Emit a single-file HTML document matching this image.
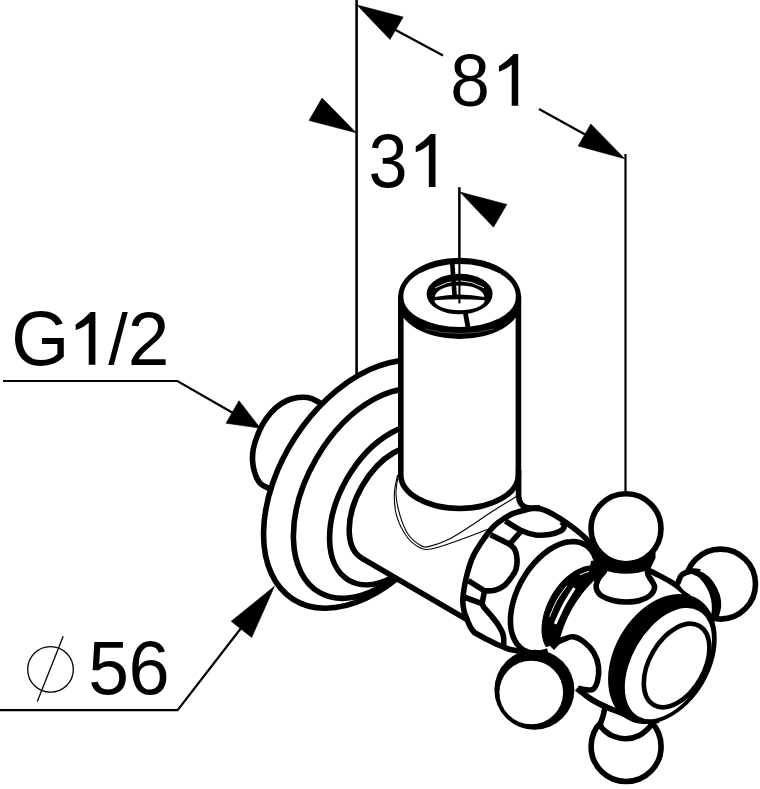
<!DOCTYPE html>
<html><head><meta charset="utf-8"><style>
html,body{margin:0;padding:0;background:#fff;width:760px;height:789px;overflow:hidden}
svg{display:block}
.t{font-family:'Liberation Sans',sans-serif}
</style></head><body>
<svg width="760" height="789" viewBox="0 0 760 789"><line x1="356.6" y1="0" x2="356.6" y2="377" stroke="#000" stroke-width="2.6"/>
<line x1="625.5" y1="154" x2="625.5" y2="492" stroke="#000" stroke-width="2.2"/>
<line x1="459.3" y1="187.4" x2="459.3" y2="303.4" stroke="#000" stroke-width="2"/>
<path d="M390,27 L443,55.5 M539,109 L595,140" fill="none" stroke="#000" stroke-width="2.2" />
<path d="M357.0,5.0 L403.2,17.1 L390.0,39.5Z" fill="#000" stroke="#000" stroke-width="0.6" />
<path d="M624.7,158.7 L590.8,124.0 L578.2,146.0Z" fill="#000" stroke="#000" stroke-width="0.6" />
<path d="M356.2,132.8 L322.1,98.1 L309.0,120.4Z" fill="#000" stroke="#000" stroke-width="0.6" />
<path d="M460.0,192.1 L506.8,204.4 L493.5,227.2Z" fill="#000" stroke="#000" stroke-width="0.6" />
<path d="M3,381 L177.4,381 L240,417" fill="none" stroke="#000" stroke-width="2.2" stroke-linejoin="miter"/>
<path d="M260.3,428.2 L239.0,400.7 L226.0,423.2Z" fill="#000" stroke="#000" stroke-width="0.6" />
<path d="M0,710.2 L177.6,710.2 L245,623" fill="none" stroke="#000" stroke-width="2.2" stroke-linejoin="miter"/>
<path d="M274.5,586.2 L231.2,621.3 L251.7,637.5Z" fill="#000" stroke="#000" stroke-width="0.6" />
<circle cx="50.5" cy="669.4" r="22.8" fill="none" stroke="#000" stroke-width="1.3"/>
<line x1="63.2" y1="636.3" x2="37.3" y2="701.6" stroke="#000" stroke-width="1.3"/>
<text transform="matrix(0.7118,0,0,0.7387,450.31,105.58)" font-size="100" class="t">8</text>
<path d="M518.2,105.7 L518.2,54.1 L513.56,54.1 Q507.36,60.81 498.95,66.28 L498.95,71.85 Q506.85,69.06 511.70,64.57 L511.70,105.7 Z" fill="#000"/>
<text transform="matrix(0.7024,0,0,0.7599,368.53,187.06)" font-size="100" class="t">3</text>
<path d="M435.5,187 L435.5,134 L430.73,134 Q424.37,140.89 415.73,146.51 L415.73,152.23 Q423.84,149.37 428.82,144.76 L428.82,187 Z" fill="#000"/>
<text transform="matrix(0.7475,0,0,0.7726,11.14,364.85)" font-size="100" class="t">G</text>
<path d="M95.4,364.8 L95.4,311.9 L90.64,311.9 Q84.29,318.78 75.67,324.38 L75.67,330.10 Q83.76,327.24 88.73,322.64 L88.73,364.8 Z" fill="#000"/>
<text transform="matrix(0.7019,0,0,0.7163,108.20,363.90)" font-size="100" class="t">&#47;</text>
<text transform="matrix(0.7485,0,0,0.7562,127.84,364.60)" font-size="100" class="t">2</text>
<text transform="matrix(0.7319,0,0,0.7581,88.17,694.06)" font-size="100" class="t">5</text>
<text transform="matrix(0.7390,0,0,0.7627,128.45,694.36)" font-size="100" class="t">6</text>
<path d="M330.0,430.0 C333.7,417.7 324.1,410.8 322.0,406.0 C319.9,401.2 319.9,402.9 317.5,401.5 C315.1,400.1 310.9,398.2 307.7,397.6 C304.4,397.0 301.5,397.1 298.0,397.6 C294.5,398.1 290.5,398.9 286.8,400.6 C283.1,402.3 279.2,404.7 275.7,407.8 C272.2,410.9 268.7,415.1 265.9,419.1 C263.1,423.1 261.0,426.9 258.9,431.8 C256.8,436.7 254.4,443.4 253.4,448.5 C252.4,453.6 252.3,458.1 252.7,462.5 C253.0,466.9 254.2,471.5 255.5,475.0 C256.8,478.5 258.2,481.3 260.3,483.4 C262.4,485.5 264.7,486.4 268.0,487.8 C271.3,489.2 274.7,493.3 280.0,492.0 C285.3,490.7 291.7,490.3 300.0,480.0 C308.3,469.7 326.3,442.3 330.0,430.0Z" fill="#fff" stroke="#000" stroke-width="5.6" />
<ellipse cx="367.2" cy="484.3" rx="136.75" ry="86.0" transform="rotate(-57.03 367.2 484.3)" fill="#fff" stroke="#000" stroke-width="5.6" />
<ellipse cx="376.4" cy="493.6" rx="114.1" ry="69.6" transform="rotate(-60 376.4 493.6)" fill="none" stroke="#000" stroke-width="5.6" />
<ellipse cx="392.6" cy="504.7" rx="87.3" ry="52.5" transform="rotate(-60 392.6 504.7)" fill="none" stroke="#000" stroke-width="5.6" />
<ellipse cx="393.5" cy="504" rx="62.8" ry="36.1" transform="rotate(-60 393.5 504)" fill="none" stroke="#000" stroke-width="5.6" />
<path d="M424.9,449.6 L600.0,549.0 L520.0,660.0 L362.1,558.4Z" fill="#fff" stroke="#000" stroke-width="0" />
<path d="M362.1,558.4 L470,621.3" fill="none" stroke="#000" stroke-width="5.6" />
<path d="M398.5,474.0 C398.1,477.4 395.7,487.1 396.0,494.2 C396.3,501.3 398.2,509.5 400.3,516.4 C402.4,523.2 405.4,530.4 408.8,535.3 C412.2,540.1 417.4,543.6 420.8,545.5 C424.2,547.4 424.5,547.5 429.3,546.4 C434.1,545.3 442.8,542.3 449.9,538.7 C457.0,535.1 465.0,529.6 472.1,525.0 C479.2,520.4 485.8,515.7 492.6,511.3 C499.5,506.9 509.0,501.1 513.2,498.5 C517.4,495.9 517.2,496.0 518.0,495.5" fill="none" stroke="#000" stroke-width="1.1" />
<path d="M397.5,475.0 C397.0,478.2 394.4,487.3 394.3,494.2 C394.2,501.1 394.7,509.3 396.8,516.4 C398.9,523.5 403.4,531.9 407.1,537.0 C410.8,542.1 415.1,545.2 419.1,547.2 C423.1,549.2 424.4,550.1 431.0,549.0 C437.6,547.9 449.3,543.5 458.4,540.4 C467.5,537.2 479.7,532.4 485.8,530.1 C491.9,527.8 493.5,527.1 495.0,526.5" fill="none" stroke="#000" stroke-width="1.1" />
<path d="M400.8,298 L400.8,475 A58.8,33.5 0 0 0 518.4,475 L518.4,298 Z" fill="#fff" stroke="#000" stroke-width="0" />
<path d="M400.8,296 L400.8,475 A58.8,33.5 0 0 0 518.4,475 L518.4,296" fill="none" stroke="#000" stroke-width="5.6" />
<path d="M518.6,470 L518.6,496 C519,505 524,508 531,508 L540,507.8" fill="none" stroke="#000" stroke-width="5.6" />
<path d="M398.1,297 A61.5,39.4 0 0 1 521.1,297 L521.1,303 A61.5,36 0 0 1 398.1,303 Z" fill="#000" stroke="#000" stroke-width="0" />
<path d="M403.4,295.5 A56.2,31.5 0 0 1 515.8,295.5 L515.8,297.5 A56.2,29.5 0 0 1 403.4,297.5 Z" fill="#fff" stroke="#000" stroke-width="0" />
<path d="M425,329 Q459.6,338 494,329" fill="none" stroke="#777" stroke-width="0.6" />
<ellipse cx="459.6" cy="294" rx="30.2" ry="17.5" fill="#000" stroke="#000" stroke-width="5.6"/>
<path d="M435,297 A24.6,11.6 0 0 1 484.2,297 Q459.6,292 435,297 Z" fill="#fff" stroke="#000" stroke-width="0" />
<path d="M434.4,300.2 Q459.6,298.2 484.8,300.2 A25.2,10 0 0 1 434.4,300.2 Z" fill="#fff" stroke="#000" stroke-width="0" />
<path d="M435.3,287.8 Q459.6,273.8 484,287.8" fill="none" stroke="#fff" stroke-width="0.9" />
<path d="M452.2,262.5 L454.7,297" fill="none" stroke="#000" stroke-width="4.6" />
<path d="M465.3,312.5 L468.2,328.5" fill="none" stroke="#000" stroke-width="4.8" />
<line x1="459.4" y1="187.4" x2="459.4" y2="303.4" stroke="#000" stroke-width="2.1"/>
<path d="M531.0,508.6 L523.3,510.5 L512.7,513.7 L503.3,519.0 L494.8,525.3 L487.5,533.7 L480.1,544.2 L473.8,554.7 L469.6,565.3 L466.4,577.0 L464.0,589.1 L462.8,601.1 L464.0,610.8 L467.0,619.2 L470.7,627.7 L474.3,632.5 L485.1,638.5 L497.2,644.5 L509.2,649.3 L521.3,651.7 L534.5,654.2 L548.0,654.0 L590.0,640.0 L605.0,590.0 L595.5,558.0 L592.5,549.0 L588.4,541.3 L582.1,535.0 L571.6,526.6 L561.0,519.2 L550.5,512.9 L540.0,508.8 L531.0,508.5Z" fill="#fff" stroke="#000" stroke-width="0" />
<path d="M531.0,508.6 C529.7,508.9 526.3,509.6 523.3,510.5 C520.2,511.4 516.0,512.3 512.7,513.7 C509.4,515.1 506.3,517.1 503.3,519.0 C500.3,520.9 497.4,522.8 494.8,525.3 C492.2,527.8 489.9,530.6 487.5,533.7 C485.1,536.9 482.4,540.7 480.1,544.2 C477.8,547.7 475.6,551.2 473.8,554.7 C472.1,558.2 470.8,561.6 469.6,565.3 C468.4,569.0 467.3,573.0 466.4,577.0 C465.5,581.0 464.6,585.1 464.0,589.1 C463.4,593.1 462.8,597.5 462.8,601.1 C462.8,604.7 463.3,607.8 464.0,610.8 C464.7,613.8 465.9,616.4 467.0,619.2 C468.1,622.0 469.5,625.5 470.7,627.7 C471.9,629.9 473.7,631.7 474.3,632.5 L485.1,638.5 L497.2,644.5 L509.2,649.3 L521.3,651.7 L534.5,654.2 L548.0,654.0" fill="none" stroke="#000" stroke-width="5.6" stroke-linejoin="round"/>
<path d="M531.0,508.5 C532.5,508.6 536.8,508.1 540.0,508.8 C543.2,509.5 547.0,511.2 550.5,512.9 C554.0,514.6 557.5,516.9 561.0,519.2 C564.5,521.5 568.1,524.0 571.6,526.6 C575.1,529.2 579.3,532.5 582.1,535.0 C584.9,537.5 586.7,539.0 588.4,541.3 C590.1,543.6 591.3,546.2 592.5,549.0 C593.7,551.8 595.0,556.5 595.5,558.0" fill="none" stroke="#000" stroke-width="5.6" />
<path d="M596.9,561.8 C596.7,561.3 596.3,559.7 595.9,558.8 C595.6,557.8 595.2,556.9 594.8,556.0 C594.4,555.1 594.0,554.2 593.5,553.4 C593.0,552.6 592.5,551.8 591.9,551.1 C591.4,550.3 590.8,549.6 590.2,549.0 C589.6,548.3 588.9,547.7 588.3,547.1 C587.6,546.5 586.9,546.0 586.2,545.5 C585.5,545.0 584.7,544.6 583.9,544.2 C583.2,543.8 582.3,543.4 581.5,543.1 C580.7,542.8 579.8,542.5 579.0,542.3 C578.1,542.1 577.2,541.9 576.3,541.8 C575.4,541.7 574.5,541.6 573.5,541.6 C572.6,541.6 571.6,541.6 570.6,541.7 C569.7,541.7 568.7,541.8 567.7,542.0 C566.7,542.2 565.7,542.4 564.6,542.6 C563.6,542.9 562.6,543.2 561.6,543.6 C560.5,543.9 559.5,544.3 558.4,544.8 C557.4,545.2 556.3,545.7 555.3,546.2 C554.2,546.8 553.2,547.3 552.1,548.0 C551.1,548.6 550.0,549.2 549.0,549.9 C548.0,550.6 546.9,551.4 545.9,552.2 C544.9,552.9 543.8,553.8 542.8,554.6 C541.8,555.5 540.8,556.4 539.8,557.3 C538.8,558.2 537.9,559.2 536.9,560.2 C535.9,561.2 535.0,562.2 534.1,563.3 C533.1,564.3 532.2,565.4 531.3,566.5 C530.4,567.6 529.6,568.8 528.7,569.9 C527.8,571.1 527.0,572.3 526.2,573.5 C525.4,574.7 524.6,575.9 523.9,577.1 C523.1,578.4 522.4,579.6 521.7,580.9 C521.0,582.2 520.3,583.5 519.7,584.8 C519.0,586.1 518.4,587.4 517.8,588.7 C517.2,590.0 516.7,591.3 516.2,592.7 C515.7,594.0 515.2,595.3 514.7,596.7 C514.3,598.0 513.9,599.3 513.5,600.7 C513.1,602.0 512.7,603.3 512.4,604.6 C512.1,606.0 511.8,607.3 511.6,608.6 C511.4,609.9 511.2,611.2 511.0,612.5 C510.8,613.7 510.7,615.0 510.6,616.3 C510.5,617.5 510.5,618.8 510.5,620.0 C510.4,621.2 510.5,622.4 510.5,623.6 C510.6,624.8 510.7,625.9 510.8,627.0 C510.9,628.2 511.1,629.3 511.3,630.4 C511.5,631.4 511.8,632.5 512.1,633.5 C512.3,634.5 512.7,635.5 513.0,636.5 C513.4,637.4 513.8,638.3 514.2,639.2 C514.6,640.1 515.1,640.9 515.6,641.7 C516.0,642.6 516.6,643.3 517.1,644.1 C517.7,644.8 518.3,645.5 518.9,646.1 C519.5,646.8 520.2,647.4 520.8,648.0 C521.5,648.5 522.2,649.0 522.9,649.5 C523.7,650.0 524.4,650.4 525.2,650.8 C526.0,651.2 526.8,651.6 527.7,651.8 C528.5,652.1 529.3,652.4 530.2,652.6 C531.1,652.8 532.0,652.9 532.9,653.0 C533.8,653.2 534.8,653.2 535.7,653.2 C536.7,653.2 537.6,653.2 538.6,653.1 C539.6,653.0 540.6,652.9 541.6,652.7 C542.6,652.5 543.6,652.3 544.6,652.0 C545.6,651.8 547.2,651.2 547.7,651.1" fill="none" stroke="#000" stroke-width="5.6" />
<path d="M505.4,521.0 C508.0,522.6 516.1,528.2 521.2,530.5 C526.3,532.8 531.1,534.3 535.8,535.0 C540.5,535.7 545.5,535.1 549.5,534.5 C553.5,533.9 557.5,532.6 560.0,531.3 C562.5,530.0 563.9,528.1 564.2,526.6 C564.5,525.1 562.4,522.8 562.0,522.0" fill="none" stroke="#000" stroke-width="5.6" />
<path d="M490.6,534.7 L509.6,544.2 L521.2,531.0" fill="none" stroke="#000" stroke-width="5.6" stroke-linejoin="round"/>
<path d="M509.6,544.2 C510.5,545.1 513.6,547.0 514.8,549.5 C516.0,552.0 516.8,555.7 517.0,559.0 C517.2,562.3 516.8,566.5 515.9,569.5 C515.0,572.5 513.5,574.3 511.6,577.0 C509.7,579.7 507.2,583.3 504.4,585.5 C501.6,587.7 498.1,589.4 494.8,590.3 C491.5,591.2 486.2,590.8 484.5,590.9" fill="none" stroke="#000" stroke-width="5.6" />
<path d="M468.3,580.7 L484.5,590.9 L482.1,603.6 L465.2,597.5" fill="none" stroke="#000" stroke-width="5.6" stroke-linejoin="round"/>
<path d="M482.1,603.6 C482.4,604.2 482.4,605.2 483.9,607.2 C485.4,609.2 488.7,612.6 491.1,615.6 C493.5,618.6 496.4,622.0 498.4,625.2 C500.4,628.4 502.3,631.6 503.2,634.9 C504.1,638.2 503.7,643.3 503.8,645.0" fill="none" stroke="#000" stroke-width="5.6" />
<path d="M596.0,575.0 C601.8,570.8 602.7,585.8 610.0,585.0 C617.3,584.2 630.0,570.8 640.0,570.0 C650.0,569.2 661.7,576.7 670.0,580.0 C678.3,583.3 683.0,583.3 690.0,590.0 C697.0,596.7 708.7,605.0 712.0,620.0 C715.3,635.0 718.7,662.5 710.0,680.0 C701.3,697.5 675.0,719.3 660.0,725.0 C645.0,730.7 630.8,718.2 620.0,714.0 C609.2,709.8 602.5,704.3 595.0,700.0 C587.5,695.7 580.8,696.3 575.0,688.0 C569.2,679.7 560.0,663.0 560.0,650.0 C560.0,637.0 569.0,622.5 575.0,610.0 C581.0,597.5 590.2,579.2 596.0,575.0Z" fill="#fff" stroke="#000" stroke-width="0" />
<path d="M646.0,569.0 C648.0,570.0 653.7,572.6 657.7,574.7 C661.7,576.8 666.5,579.3 670.0,581.4 C673.5,583.5 676.3,585.4 679.0,587.5 C681.7,589.6 683.3,592.0 686.0,594.0 C688.7,596.0 691.6,597.0 695.3,599.5 C698.9,602.0 705.0,605.9 707.9,609.0 C710.8,612.1 711.8,616.8 712.6,618.4" fill="none" stroke="#000" stroke-width="5.6" />
<path d="M576.7,688.5 C579.5,690.5 588.3,697.4 593.2,700.5 C598.1,703.6 601.9,705.1 606.3,707.1 C610.7,709.1 615.1,710.6 619.5,712.4 C623.9,714.1 628.2,716.1 632.6,717.6 C637.0,719.1 641.4,721.2 645.8,721.6 C650.2,722.0 656.8,720.5 659.0,720.3" fill="none" stroke="#000" stroke-width="5.6" />
<path d="M592.0,565.9 L590.0,566.0 L587.8,566.3 L585.7,566.8 L583.5,567.4 L581.3,568.2 L579.1,569.2 L576.9,570.3 L574.7,571.6 L572.6,573.0 L570.4,574.5 L568.3,576.2 L566.2,578.0 L564.1,580.0 L562.1,582.0 L560.2,584.2 L558.3,586.4 L556.5,588.8 L554.8,591.2 L553.1,593.8 L551.6,596.3 L550.2,599.0 L548.8,601.7 L547.6,604.4 L546.5,607.1 L545.5,609.9 L544.6,612.6 L543.9,615.4 L543.3,618.1 L542.8,620.8 L542.4,623.5 L542.2,626.2 L542.1,628.7 L542.1,631.3 L542.3,633.7 L542.6,636.1 L543.1,638.3 L543.6,640.5 L544.3,642.6 L545.2,644.5 L546.1,646.3 L558.5,642.8 L558.9,641.0 L559.3,639.2 L559.8,637.3 L560.3,635.5 L560.8,633.7 L561.4,631.8 L562.0,630.0 L562.6,628.2 L563.3,626.3 L564.0,624.5 L564.7,622.7 L565.5,620.9 L566.3,619.0 L567.1,617.2 L568.0,615.4 L568.9,613.7 L569.8,611.9 L570.8,610.1 L571.7,608.4 L572.7,606.7 L573.8,604.9 L574.8,603.3 L575.9,601.6 L577.0,599.9 L578.1,598.3 L579.3,596.7 L580.5,595.1 L581.7,593.5 L582.9,592.0 L584.1,590.4 L585.4,589.0 L586.6,587.5 L587.9,586.1 L589.2,584.6 L590.6,583.3 L591.9,581.9 L593.3,580.6 L594.6,579.3 L596.0,578.1 L597.4,576.9Z" fill="#000" stroke="#000" stroke-width="1.2" stroke-linejoin="round"/>
<path d="M549.6,616.7 C550.8,613.9 554.1,605.1 557.0,600.0 C559.9,594.9 565.2,588.2 566.8,585.8" fill="none" stroke="#fff" stroke-width="1.0" />
<path d="M555.2,623.8 C556.7,620.7 560.8,611.0 564.0,605.0 C567.2,599.0 572.7,590.8 574.4,587.9" fill="none" stroke="#fff" stroke-width="2.9" />
<path d="M580,574.7 Q585,572.5 590.2,571.1" fill="none" stroke="#fff" stroke-width="1.0" />
<circle cx="720.5" cy="584.1" r="35" fill="#fff" stroke="#000" stroke-width="5.6"/>
<path d="M678.0,583.0 C678.5,581.8 679.7,577.5 681.0,575.8 C682.3,574.1 683.7,573.4 685.8,572.6 C687.9,571.8 690.8,570.9 693.7,571.0 C696.6,571.1 700.1,571.5 703.2,573.4 C706.4,575.2 710.0,578.5 712.6,582.1 C715.2,585.7 717.7,590.8 719.0,594.7 C720.3,598.7 720.6,602.4 720.5,605.8 C720.4,609.2 719.8,614.2 718.2,615.3 C716.6,616.4 713.2,614.0 711.0,612.5 C708.8,611.0 708.0,608.7 705.0,606.0 C702.0,603.3 696.5,599.1 693.0,596.5 C689.5,593.9 686.5,592.8 684.0,590.5 C681.5,588.2 679.0,584.2 678.0,583.0" fill="#fff" stroke="#000" stroke-width="0" />
<path d="M677.5,584.0 C678.1,582.6 679.6,577.7 681.0,575.8 C682.4,573.9 683.7,573.4 685.8,572.6 C687.9,571.8 691.3,571.1 693.7,571.0 C696.1,570.9 699.0,571.8 700.0,572.0" fill="none" stroke="#000" stroke-width="5.6" />
<path d="M693.7,570.5 C695.3,571.0 700.1,571.5 703.2,573.4 C706.4,575.3 710.0,578.5 712.6,582.1 C715.2,585.7 717.7,590.8 719.0,594.7 C720.3,598.7 720.6,602.2 720.5,605.8 C720.4,609.3 718.6,614.3 718.2,616.0 L711.8,616.0 C711.9,614.8 712.6,611.8 712.6,609.0 C712.6,606.2 712.6,602.9 711.8,599.5 C711.0,596.1 709.9,592.1 707.9,588.4 C705.9,584.7 702.4,579.8 700.0,577.4 C697.6,575.0 694.8,574.6 693.7,574.0Z" fill="#000" stroke="#000" stroke-width="1.5" stroke-linejoin="round"/>
<path d="M591.0,561.0 L602.0,559.0 L606.0,569.0 L601.0,580.0 L594.0,581.0 L589.0,572.0Z" fill="#000" stroke="#000" stroke-width="0" />
<path d="M605.5,565.0 C605.3,566.0 605.5,569.0 604.5,571.0 C603.5,573.0 600.9,574.7 599.5,577.0 C598.1,579.3 596.6,582.5 596.2,584.7 C595.8,587.0 596.1,588.6 597.0,590.5 C597.9,592.4 599.1,594.3 601.8,596.0 C604.5,597.7 608.9,599.5 613.0,600.5 C617.1,601.5 622.0,602.0 626.4,602.0 C630.8,602.0 635.5,601.7 639.5,600.5 C643.5,599.3 648.0,597.2 650.5,595.0 C653.0,592.8 654.3,589.8 654.6,587.5 C654.9,585.2 653.2,583.5 652.1,581.4 C651.0,579.3 648.9,577.4 648.0,574.7 C647.1,572.0 647.2,566.6 647.0,565.0" fill="#fff" stroke="#000" stroke-width="5.6" />
<circle cx="626" cy="528.7" r="35" fill="#fff" stroke="#000" stroke-width="5.6"/>
<path d="M596.5,542.4 A32.5,32.5 0 0 0 655.5,542.4 L655.5,558 L650,569.5 Q626,578 602,569.5 L596.5,558 Z" fill="#000" stroke="#000" stroke-width="0" />
<path d="M552.0,648.0 C553.0,647.0 556.0,643.5 558.0,642.0 C560.0,640.5 561.6,640.0 564.2,639.1 C566.8,638.2 570.0,636.2 573.4,636.8 C576.8,637.4 581.4,639.9 584.8,642.6 C588.2,645.3 591.6,648.8 593.9,652.8 C596.2,656.8 597.9,661.7 598.5,666.5 C599.1,671.3 598.4,677.6 597.4,681.4 C596.4,685.2 594.9,688.0 592.8,689.4 C590.7,690.8 587.3,689.8 584.8,689.6 C582.3,689.4 579.1,688.4 578.0,688.2" fill="#fff" stroke="#000" stroke-width="5.6" />
<circle cx="534.4" cy="689.8" r="40" fill="#000"/>
<circle cx="531.25" cy="692.5" r="31.85" fill="#fff"/>
<circle cx="626.1" cy="746.5" r="35" fill="#fff" stroke="#000" stroke-width="5.6"/>
<path d="M605.0,706.0 C604.7,707.7 603.9,712.8 603.0,716.3 C602.1,719.8 598.1,723.5 599.7,726.8 C601.4,730.1 608.5,734.0 612.9,736.0 C617.3,738.0 621.6,738.8 626.0,738.7 C630.4,738.6 635.2,737.4 639.2,735.4 C643.2,733.4 647.3,729.1 649.7,726.8 C652.1,724.5 652.8,724.1 653.7,721.6 C654.6,719.1 654.8,713.6 655.0,712.0" fill="#fff" stroke="#000" stroke-width="0" />
<path d="M605.0,707.0 C604.7,708.5 603.8,713.3 603.0,716.3 C602.2,719.3 600.2,722.5 600.5,725.0 C600.8,727.5 602.9,729.2 605.0,731.0 C607.1,732.8 609.4,734.7 612.9,736.0 C616.4,737.3 621.6,738.8 626.0,738.7 C630.4,738.6 635.2,737.4 639.2,735.4 C643.2,733.4 647.3,729.4 649.7,726.8 C652.1,724.2 653.0,721.1 653.7,720.0" fill="none" stroke="#000" stroke-width="5.6" />
<path d="M585.0,695.0 C586.4,695.9 589.7,698.5 593.2,700.5 C596.8,702.5 601.9,705.1 606.3,707.1 C610.7,709.1 615.1,710.6 619.5,712.4 C623.9,714.1 628.2,716.1 632.6,717.6 C637.0,719.1 643.6,720.9 645.8,721.6" fill="none" stroke="#000" stroke-width="5.6" />
<ellipse cx="662.4" cy="659" rx="69.8" ry="48.1" transform="rotate(-60 662.4 659)" fill="#000" stroke="#000" stroke-width="0" />
<ellipse cx="668.4" cy="663.6" rx="60.8" ry="36.1" transform="rotate(-60 668.4 663.6)" fill="#fff" stroke="#000" stroke-width="0" />
<ellipse cx="676.6" cy="665.5" rx="45.6" ry="27.25" transform="rotate(-60 676.6 665.5)" fill="#fff" stroke="#000" stroke-width="4.6" /></svg>
</body></html>
